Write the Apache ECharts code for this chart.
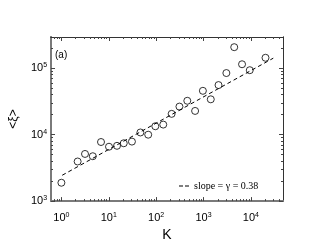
<!DOCTYPE html>
<html><head><meta charset="utf-8">
<script src="https://cdn.jsdelivr.net/npm/echarts@6/dist/echarts.min.js"></script>
<style>html,body{margin:0;padding:0;background:#fff}#c{width:319px;height:247px}</style>
</head><body><div id="c"></div>
<script>
// data
const kValues  = [1.0, 2.2, 3.15, 4.6, 6.85, 10.1, 14.9, 20.7, 30.8, 46.5, 67.9, 96, 141, 212, 310, 454, 663, 968, 1420, 2070, 3030, 4440, 6490, 9460, 20300];
const xiValues = [1890, 3950, 5130, 4740, 7760, 6590, 6800, 7430, 7870, 10800, 10000, 13400, 14200, 20600, 26500, 32400, 22800, 45800, 34100, 55900, 84800, 208000, 115000, 93600, 144000];
const fitK  = [1.04, 29600];
const fitXi = [2450, 142000];
const xMajor = [1, 10, 100, 1000, 10000];
const yMajor = [1000, 10000, 100000];
const fitLabel = 'slope = \u03b3 = 0.38';

function minors(lo, hi) {
  const out = [];
  for (let e = -2; e <= 6; e++) for (let n = 2; n <= 9; n++) {
    const v = n * Math.pow(10, e);
    if (v > lo && v < hi) out.push(v);
  }
  return out;
}
const XMIN = 0.604, XMAX = 47500, YMIN = 1000, YMAX = 296000;
const xMinor = minors(XMIN, XMAX), yMinor = minors(YMIN, YMAX);
const fmt = v => '10{s|' + Math.round(Math.log10(v)) + '}';
const rich = { s: { fontSize: 7, padding: [0, 0, 6, 0], fontFamily: 'Liberation Sans', color: '#000' } };

function ax(kind, pos, showLabel, ticks, len, lineCol, lineW, extra) {
  const isX = kind === 'x';
  return Object.assign({
    type: 'log', logBase: 10, position: pos,
    min: isX ? XMIN : YMIN, max: isX ? XMAX : YMAX,
    axisLine: { show: true, lineStyle: { color: lineCol, width: lineW } },
    axisTick: { show: true, inside: true, length: len, customValues: ticks, lineStyle: { color: '#444', width: 1 } },
    axisLabel: { show: showLabel, customValues: isX ? xMajor : yMajor, formatter: fmt, rich: rich,
      fontSize: 11, fontFamily: 'Liberation Sans', color: '#000', margin: isX ? 10 : 4 },
    splitLine: { show: false }, minorTick: { show: false }
  }, extra || {});
}

const chart = echarts.init(document.getElementById('c'), null, { renderer: 'canvas' });
chart.setOption({
  animation: false,
  grid: { left: 37, right: 36, top: 37, bottom: 36, containLabel: false },
  xAxis: [
    ax('x', 'bottom', true, xMajor, 4, '#7a7a7a', 2, { name: 'K', nameLocation: 'middle', nameGap: 25,
      nameTextStyle: { fontSize: 14, fontFamily: 'Liberation Sans', color: '#000' } }),
    ax('x', 'bottom', false, xMinor, 2, '#7a7a7a', 2),
    ax('x', 'top', false, xMajor, 4, '#333', 1),
    ax('x', 'top', false, xMinor, 2, '#333', 1)
  ],
  yAxis: [
    ax('y', 'left', true, yMajor, 4, '#7a7a7a', 2, { name: '<\u03be>', nameLocation: 'middle', nameGap: 27,
      nameTextStyle: { fontSize: 12, fontFamily: 'Liberation Sans', color: '#000' } }),
    ax('y', 'left', false, yMinor, 2, '#7a7a7a', 2),
    ax('y', 'right', false, yMajor, 4, '#333', 1),
    ax('y', 'right', false, yMinor, 2, '#333', 1)
  ],
  legend: {
    left: 174, top: 176, itemWidth: 10, itemHeight: 8, itemGap: 2,
    textStyle: { fontSize: 10, fontFamily: 'Liberation Serif', color: '#000' },
    data: [{ name: fitLabel, icon: 'path://M0,0L4,0L4,1L0,1ZM6,0L10,0L10,1L6,1Z', itemStyle: { color: '#000' } }]
  },
  graphic: [{ type: 'text', left: 55, top: 50, style: { text: '(a)', fontSize: 10, fontFamily: 'Liberation Sans', fill: '#000' } }],
  series: [
    { type: 'scatter', xAxisIndex: 0, yAxisIndex: 0, symbol: 'circle', symbolSize: 7,
      itemStyle: { color: 'rgba(255,255,255,0)', borderColor: '#000', borderWidth: 1 },
      data: kValues.map((k, i) => [k, xiValues[i]]) },
    { type: 'line', name: fitLabel, xAxisIndex: 0, yAxisIndex: 0, symbol: 'none',
      lineStyle: { color: '#000', width: 1, type: [4, 3] },
      data: fitK.map((k, i) => [k, fitXi[i]]) }
  ]
});
</script></body></html>
